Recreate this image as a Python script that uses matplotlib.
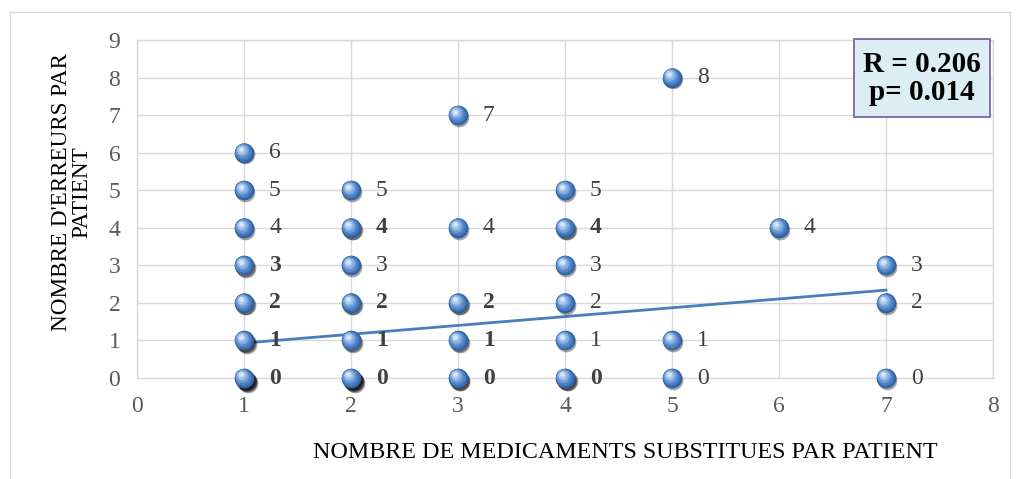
import matplotlib
matplotlib.use("Agg")
import matplotlib.pyplot as plt
from matplotlib.patches import Rectangle
from matplotlib.lines import Line2D
from matplotlib import transforms
import numpy as np

# data
med_counts = [1, 1, 1, 1, 1, 1, 1,
              2, 2, 2, 2, 2, 2,
              3, 3, 3, 3, 3,
              4, 4, 4, 4, 4, 4,
              5, 5, 5,
              6,
              7, 7, 7]
error_counts = [0, 1, 2, 3, 4, 5, 6,
                0, 1, 2, 3, 4, 5,
                0, 1, 2, 4, 7,
                0, 1, 2, 3, 4, 5,
                0, 1, 8,
                4,
                0, 2, 3]
# how many patients sit on the same point (overlapping markers)
overlap = [5, 3, 2, 2, 1, 1, 1,
           5, 2, 2, 1, 2, 1,
           3, 2, 2, 1, 1,
           3, 1, 1, 1, 2, 1,
           1, 1, 1,
           1,
           1, 1, 1]
trend_x = [1, 7]
trend_y = [0.93, 2.34]
stats_text = "R = 0.206\np= 0.014"
x_label = "NOMBRE DE MEDICAMENTS SUBSTITUES PAR PATIENT"
y_label = "NOMBRE D'ERREURS PAR\nPATIENT"

plt.rcParams["font.family"] = ["Liberation Serif", "DejaVu Serif"]

fig = plt.figure(figsize=(10.16, 4.79), dpi=100)
ax = fig.add_axes([137 / 1016, 1 - 378 / 479, 856 / 1016, 338 / 479])

grid_col = "#d9d9d9"
ax.set_xlim(0, 8)
ax.set_ylim(0, 9)
ax.set_xticks(range(0, 9))
ax.set_yticks(range(0, 10))
ax.grid(True, color=grid_col, linewidth=1)
ax.set_axisbelow(True)
for s in ax.spines.values():
    s.set_color(grid_col)
    s.set_linewidth(1)
ax.tick_params(length=0, labelsize=17, colors="#595959")
ax.tick_params(axis="y", pad=12)
ax.tick_params(axis="x", pad=13)

# trend line drawn under the markers
ax.plot(trend_x, trend_y, color="#4a7ebb", linewidth=2, zorder=2)

xs = np.array(med_counts)
ys = np.array(error_counts)
ov = np.array(overlap)

# shadows, darker where several points overlap
for k in range(1, ov.max() + 1):
    sel = ov >= k
    sh = transforms.offset_copy(ax.transData, fig, x=0.6 + 0.4 * k, y=-0.8 - 0.5 * k, units="points")
    ax.scatter(xs[sel], ys[sel], s=200, color="black", alpha=0.35, linewidths=0,
               transform=sh, zorder=3, clip_on=False)

# glossy sphere: stacked circles getting lighter toward the upper left
shades = ["#2c5d9c", "#3767aa", "#4174b8", "#4c80c4", "#5a8ccd", "#6c9ad6", "#86aee0", "#a9c7ec", "#d6e5f7"]
sizes = np.linspace(200, 12, len(shades))
for i, (c, sz) in enumerate(zip(shades, sizes)):
    off = i / (len(shades) - 1)
    tr = transforms.offset_copy(ax.transData, fig, x=-2.2 * off, y=2.6 * off, units="points")
    ax.scatter(xs, ys, s=sz, color=c, linewidths=0, transform=tr, zorder=4 + i * 0.01, clip_on=False)

# data labels
for x, y, n in zip(med_counts, error_counts, overlap):
    ax.annotate(str(y), (x, y), xytext=(18, 0), textcoords="offset points",
                ha="left", va="center", fontsize=17, color="#404040",
                fontweight="bold" if n > 1 else "normal", zorder=6)

# stats box
box = Rectangle((0.838, 0.772), 0.1585, 0.231, transform=ax.transAxes,
                facecolor="#dbeef4", edgecolor="#8064a2", linewidth=1.3,
                zorder=7, clip_on=False)
ax.add_patch(box)
ax.text(0.917, 0.885, stats_text, transform=ax.transAxes, ha="center", va="center",
        fontsize=21, fontweight="bold", color="black", linespacing=1.05, zorder=8)

# axis titles
fig.text(625 / 1016, 1 - 452 / 479, x_label, ha="center", va="center", fontsize=17.3, color="black")
fig.text(72 / 1016, 1 - 192 / 479, y_label, ha="center", va="center", rotation=90,
         multialignment="center", fontsize=16.7, color="black", linespacing=0.95)

# outer chart border
bc = "#d9d9d9"
fig.add_artist(Line2D([10 / 1016, 10 / 1016], [0, 1 - 12 / 479], color=bc, linewidth=1, transform=fig.transFigure))
fig.add_artist(Line2D([10 / 1016, 1010 / 1016], [1 - 12 / 479, 1 - 12 / 479], color=bc, linewidth=1, transform=fig.transFigure))
fig.add_artist(Line2D([1010 / 1016, 1010 / 1016], [0, 1 - 12 / 479], color=bc, linewidth=1, transform=fig.transFigure))

fig.savefig("out.png", dpi=100)
